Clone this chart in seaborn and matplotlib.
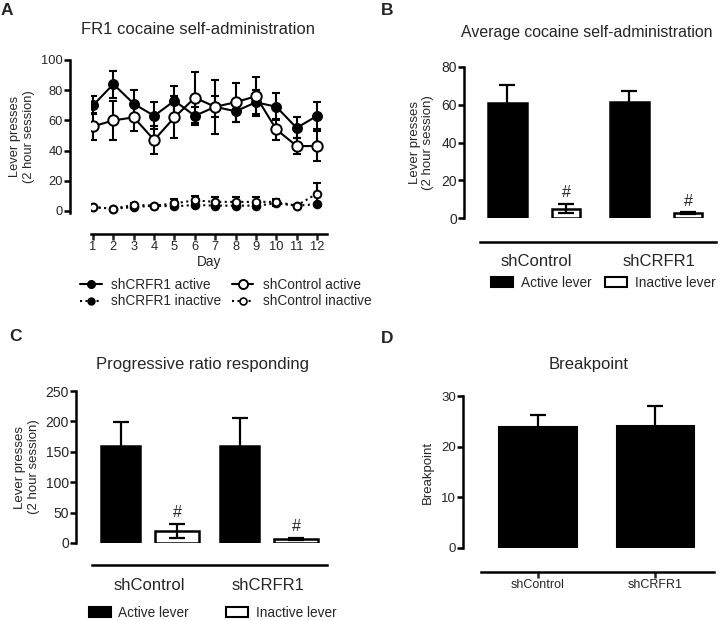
import numpy as np
import pandas as pd
import matplotlib
matplotlib.use("Agg")
import matplotlib.pyplot as plt
import seaborn as sns
from matplotlib.lines import Line2D
from matplotlib.patches import Patch
from matplotlib.container import BarContainer

sns.set_theme(style="ticks")
plt.rcParams['font.family'] = ['Liberation Sans', 'DejaVu Sans']

# ---------------- data ----------------
days = [1, 2, 3, 4, 5, 6, 7, 8, 9, 10, 11, 12]
crfr1_active = [70, 84, 71, 63, 73, 63, 69, 66, 72, 69, 55, 63]
crfr1_active_err = [6, 9, 9, 9, 10, 6, 7, 7, 8, 9, 7, 9]
ctrl_active = [56, 60, 62, 47, 62, 75, 69, 72, 76, 54, 43, 43]
ctrl_active_err = [9, 13, 9, 9, 14, 17, 18, 13, 13, 7, 5, 10]
crfr1_inactive = [2.5, 1.5, 2.5, 3.5, 3, 4, 3.5, 3.5, 3.5, 5, 3.5, 4.5]
crfr1_inactive_err = [0.5, 0.5, 0.5, 0.5, 0.5, 1, 0.5, 0.5, 0.5, 1.5, 0.5, 0.5]
ctrl_inactive = [2.5, 1.5, 4, 3.5, 5, 7, 6, 6, 6, 6, 3.5, 11.5]
ctrl_inactive_err = [0.5, 0.5, 1, 0.5, 3, 3, 3, 3, 3, 2, 0.5, 7]

groups = ["shControl", "shCRFR1"]
levers = ["Active lever", "Inactive lever"]
avg_active = [61, 61.5]
avg_active_err = [9.5, 6]
avg_inactive = [5, 2.5]
avg_inactive_err = [2.5, 0.6]

pr_active = [160, 159]
pr_active_err = [39, 47]
pr_inactive = [20, 7]
pr_inactive_err = [12, 1.5]

breakpoint_vals = [23.8, 24.0]
breakpoint_err = [2.4, 4.1]

# ---------------- layout helpers ----------------
W, H = 720, 620
fig = plt.figure(figsize=(7.2, 6.2), dpi=100)


def rect(left, top, right, bottom):
    return [left / W, 1 - bottom / H, (right - left) / W, (bottom - top) / H]


LW = 1.8


def style_axes(ax, ytick_size):
    for s in ["top", "right"]:
        ax.spines[s].set_visible(False)
    for s in ["left", "bottom"]:
        ax.spines[s].set_linewidth(LW)
        ax.spines[s].set_color("black")
    ax.tick_params(axis="y", width=LW, length=4, labelsize=ytick_size, color="black", pad=1)
    ax.set_facecolor("none")


# ---------------- Panel A ----------------
axA = fig.add_axes(rect(91, 60, 327, 213.5))
style_axes(axA, 9.3)
axA.set_ylim(-1.7, 100)
axA.set_xlim(0.9, 12.49)
axA.set_yticks([0, 20, 40, 60, 80, 100])
axA.set_xticks(days)
axA.spines["left"].set_position(("outward", 15))
axA.spines["left"].set_bounds(-1.2, 100)
axA.spines["bottom"].set_position(("outward", 15))
axA.tick_params(axis="x", width=LW, length=4, labelsize=9.3, pad=1)

series = [
    (crfr1_inactive, crfr1_inactive_err, ":", "black", 5.5),
    (ctrl_inactive, ctrl_inactive_err, ":", "white", 5.5),
    (crfr1_active, crfr1_active_err, "-", "black", 6.5),
    (ctrl_active, ctrl_active_err, "-", "white", 7.5),
]
for vals, err, ls, mfc, ms in series:
    axA.errorbar(days, vals, yerr=err, fmt="none", ecolor="black", elinewidth=1.5,
                 capsize=3.2, capthick=1.5, zorder=2)
    sns.lineplot(x=days, y=vals, ax=axA, color="black", linestyle=ls, linewidth=1.5,
                 marker="o", markersize=ms, markerfacecolor=mfc, markeredgecolor="black",
                 markeredgewidth=1.4, zorder=3, errorbar=None)

axA.set_xlabel("Day", fontsize=9.8, labelpad=1)
axA.set_ylabel("Lever presses\n(2 hour session)", fontsize=9.3, labelpad=5)

handlesA = [
    Line2D([], [], color="black", ls="-", lw=1.5, marker="o", ms=5.5, mfc="black", mec="black"),
    Line2D([], [], color="black", ls=":", lw=1.5, marker="o", ms=5, mfc="black", mec="black"),
    Line2D([], [], color="black", ls="-", lw=1.5, marker="o", ms=6.5, mfc="white", mec="black", mew=1.4),
    Line2D([], [], color="black", ls=":", lw=1.5, marker="o", ms=5, mfc="white", mec="black", mew=1.2),
]
labelsA = ["shCRFR1 active", "shCRFR1 inactive", "shControl active", "shControl inactive"]
fig.legend(handlesA, labelsA, loc="center left", bbox_to_anchor=(80 / W, 1 - 293 / H),
           ncol=2, frameon=False, fontsize=9.8, handlelength=1.6, handletextpad=0.7,
           columnspacing=0.75, labelspacing=0.2, borderaxespad=0, borderpad=0)


# ---------------- bar panel helper ----------------
def bar_panel(ax, active, active_err, inactive, inactive_err, slot, bar_widths):
    df = pd.DataFrame({
        "group": groups * 2,
        "lever": [levers[0]] * 2 + [levers[1]] * 2,
        "value": list(active) + list(inactive),
    })
    sns.barplot(data=df, x="group", y="value", hue="lever", order=groups, hue_order=levers,
                palette={levers[0]: "black", levers[1]: "white"}, edgecolor="black",
                linewidth=1.8, width=2 * slot, gap=0, errorbar=None, ax=ax, legend=False,
                zorder=2)
    errs = [active_err, inactive_err]
    vals = [active, inactive]
    bar_conts = [c for c in ax.containers if isinstance(c, BarContainer)]
    for j, cont in enumerate(bar_conts):
        xs = []
        for p in cont.patches:
            cx = p.get_x() + p.get_width() / 2
            p.set_width(bar_widths[j])
            p.set_x(cx - bar_widths[j] / 2)
            xs.append(cx)
        ax.errorbar(xs, vals[j], yerr=errs[j], fmt="none", ecolor="black",
                    elinewidth=1.6, capsize=5.5, capthick=1.6, zorder=3)
        if j == 1:
            for x, v, e in zip(xs, vals[j], errs[j]):
                ax.annotate("#", (x, v + e), xytext=(0, 2.5), textcoords="offset points",
                            ha="center", va="bottom", fontsize=11.5)


# ---------------- Panel B ----------------
axB = fig.add_axes(rect(464, 67, 716, 218))
style_axes(axB, 10)
bar_panel(axB, avg_active, avg_active_err, avg_inactive, avg_inactive_err, 0.48, [0.317, 0.235])
axB.set_ylim(0, 80)
axB.set_xlim(-0.595, 1.47)
axB.set_yticks([0, 20, 40, 60, 80])
axB.spines["bottom"].set_position(("outward", 17))
axB.spines["bottom"].set_bounds(-0.463, 1.47)
axB.tick_params(axis="x", length=0, labelsize=12, pad=9)
axB.set_xlabel("")
axB.set_ylabel("Lever presses\n(2 hour session)", fontsize=9.5, labelpad=5)

handlesBar = [Patch(facecolor="black", edgecolor="black", lw=1.5),
              Patch(facecolor="white", edgecolor="black", lw=1.5)]
fig.legend(handlesBar, levers, loc="center left", bbox_to_anchor=(491 / W, 1 - 283 / H),
           ncol=2, frameon=False, fontsize=9.8, handlelength=1.6, handleheight=0.75,
           handletextpad=0.6, columnspacing=1.0, borderaxespad=0, borderpad=0)

# ---------------- Panel C ----------------
axC = fig.add_axes(rect(76, 391, 327, 543))
style_axes(axC, 10)
bar_panel(axC, pr_active, pr_active_err, pr_inactive, pr_inactive_err, 0.475, [0.332, 0.366])
axC.set_ylim(0, 250)
axC.set_xlim(-0.613, 1.496)
axC.set_yticks([0, 50, 100, 150, 200, 250])
axC.spines["bottom"].set_position(("outward", 16))
axC.spines["bottom"].set_bounds(-0.48, 1.496)
axC.tick_params(axis="x", length=0, labelsize=12, pad=9)
axC.set_xlabel("")
axC.set_ylabel("Lever presses\n(2 hour session)", fontsize=9.5, labelpad=4)

fig.legend(handlesBar, levers, loc="center left", bbox_to_anchor=(89 / W, 1 - 613 / H),
           ncol=2, frameon=False, fontsize=9.8, handlelength=1.6, handleheight=0.75,
           handletextpad=0.55, columnspacing=2.75, borderaxespad=0, borderpad=0)

# ---------------- Panel D ----------------
axD = fig.add_axes(rect(463, 396, 714, 548))
style_axes(axD, 9.5)
sns.barplot(x=groups, y=breakpoint_vals, color="black", edgecolor="black", linewidth=1.5,
            width=0.66, errorbar=None, ax=axD, zorder=2)
xsD = [p.get_x() + p.get_width() / 2 for p in axD.patches]
axD.errorbar(xsD, breakpoint_vals, yerr=breakpoint_err, fmt="none", ecolor="black",
             elinewidth=1.6, capsize=5.5, capthick=1.6, zorder=3)
axD.set_ylim(0, 30)
axD.set_xlim(-0.64, 1.5)
axD.set_yticks([0, 10, 20, 30])
axD.spines["bottom"].set_position(("outward", 17))
axD.spines["bottom"].set_bounds(-0.49, 1.5)
axD.tick_params(axis="x", width=LW, length=4, labelsize=9.0, pad=1)
axD.set_ylabel("Breakpoint", fontsize=9.5, labelpad=5)

# ---------------- titles and panel letters ----------------
fig.text(198 / W, 1 - 30 / H, "FR1 cocaine self-administration", ha="center", va="center", fontsize=12)
fig.text(587 / W, 1 - 32 / H, "Average cocaine self-administration", ha="center", va="center", fontsize=11.4)
fig.text(202 / W, 1 - 365 / H, "Progressive ratio responding", ha="center", va="center", fontsize=12)
fig.text(589 / W, 1 - 365 / H, "Breakpoint", ha="center", va="center", fontsize=12)

for letter, x, y in [("A", 1, 3), ("B", 381, 3), ("C", 9, 329), ("D", 381, 331)]:
    fig.text(x / W, 1 - y / H, letter, ha="left", va="top", fontsize=12.5, fontweight="bold")

fig.savefig("out.png", dpi=100, facecolor="white")
